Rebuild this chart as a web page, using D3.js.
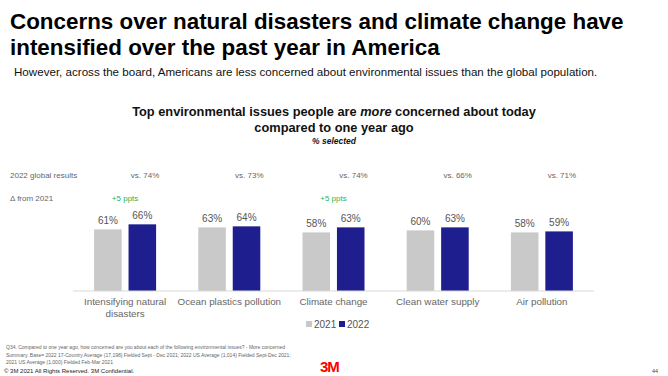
<!DOCTYPE html>
<html>
<head>
<meta charset="utf-8">
<script src="https://cdn.jsdelivr.net/npm/d3@7"></script>
<style>
  body { margin: 0; background: #fff; }
  svg text { font-family: "Liberation Sans", Arial, sans-serif; }
</style>
</head>
<body>
<div id="chart"></div>
<script>
const categories = ["Intensifying natural\ndisasters", "Ocean plastics pollution", "Climate change", "Clean water supply", "Air pollution"];
const years = ["2021", "2022"];
const values2021 = [61, 63, 58, 60, 58];
const values2022 = [66, 64, 63, 63, 59];
const global2022 = [74, 73, 74, 66, 71];
const deltas = ["+5 ppts", "", "+5 ppts", "", ""];
const colors = ["#c9c9c9", "#1e1e8f"];

const rows = categories.map((c, i) => ({
    category: c,
    values: [values2021[i], values2022[i]],
    global: global2022[i],
    delta: deltas[i]
}));

const svg = d3.select("#chart")
    .append("svg")
    .attr("width", 668)
    .attr("height", 376);

svg.append("rect").attr("width", 668).attr("height", 376).attr("fill", "#fff");

// slide heading
svg.append("text")
    .attr("x", 10).attr("y", 29)
    .attr("font-size", 22.4).attr("font-weight", "bold").attr("fill", "#000")
    .text("Concerns over natural disasters and climate change have");
svg.append("text")
    .attr("x", 10).attr("y", 55)
    .attr("font-size", 22.4).attr("font-weight", "bold").attr("fill", "#000")
    .text("intensified over the past year in America");
svg.append("text")
    .attr("x", 14).attr("y", 76)
    .attr("font-size", 11.6)
    .attr("fill", "#111")
    .text("However, across the board, Americans are less concerned about environmental issues than the global population.");

// chart title
const title = svg.append("text")
    .attr("x", 334).attr("y", 116)
    .attr("text-anchor", "middle")
    .attr("font-size", 12.8).attr("font-weight", "bold").attr("fill", "#111");
title.append("tspan").text("Top environmental issues people are ");
title.append("tspan").attr("font-style", "italic").text("more");
title.append("tspan").text(" concerned about today");
svg.append("text")
    .attr("x", 334).attr("y", 132)
    .attr("text-anchor", "middle")
    .attr("font-size", 12.8).attr("font-weight", "bold").attr("fill", "#111")
    .text("compared to one year ago");
svg.append("text")
    .attr("x", 334).attr("y", 144)
    .attr("text-anchor", "middle")
    .attr("font-size", 8.5).attr("font-weight", "bold").attr("font-style", "italic").attr("fill", "#111")
    .text("% selected");

const x = d3.scaleBand()
    .domain(categories)
    .range([73, 594]);

const x1 = d3.scaleBand()
    .domain(years)
    .range([-31, 31])
    .paddingInner(0.2);

const y = d3.scaleLinear()
    .domain([0, 100])
    .range([291, 190]);

// row labels
svg.append("text")
    .attr("x", 10).attr("y", 178)
    .attr("font-size", 8).attr("fill", "#666")
    .text("2022 global results");
svg.append("text")
    .attr("x", 10).attr("y", 201)
    .attr("font-size", 8).attr("fill", "#666")
    .text("\u0394 from 2021");

const group = svg.selectAll(".group")
    .data(rows)
    .enter().append("g")
    .attr("class", "group")
    .attr("transform", d => "translate(" + (x(d.category) + x.bandwidth() / 2) + ",0)");

group.append("text")
    .attr("x", 20).attr("y", 178)
    .attr("text-anchor", "middle")
    .attr("font-size", 8).attr("fill", "#666")
    .text(d => "vs. " + d.global + "%");

group.append("text")
    .attr("x", 0).attr("y", 201)
    .attr("text-anchor", "middle")
    .attr("font-size", 8).attr("fill", "#2fb14a")
    .text(d => d.delta);

group.selectAll(".bar")
    .data(d => d.values.map((v, i) => ({ year: years[i], value: v, i: i })))
    .enter().append("rect")
    .attr("class", "bar")
    .attr("x", d => x1(d.year))
    .attr("y", d => y(d.value))
    .attr("width", x1.bandwidth())
    .attr("height", d => y(0) - y(d.value))
    .attr("fill", d => colors[d.i]);

group.selectAll(".val")
    .data(d => d.values.map((v, i) => ({ year: years[i], value: v })))
    .enter().append("text")
    .attr("class", "val")
    .attr("x", d => x1(d.year) + x1.bandwidth() / 2)
    .attr("y", d => y(d.value) - 5)
    .attr("text-anchor", "middle")
    .attr("font-size", 10).attr("fill", "#555")
    .text(d => d.value + "%");

// baseline
svg.append("line")
    .attr("x1", x.range()[0]).attr("x2", x.range()[1])
    .attr("y1", y(0)).attr("y2", y(0))
    .attr("stroke", "#d9d9d9").attr("stroke-width", 1);

// category labels
const cat = group.append("text")
    .attr("y", 305)
    .attr("text-anchor", "middle")
    .attr("font-size", 9.8).attr("fill", "#666");
cat.selectAll("tspan")
    .data(d => d.category.split("\n"))
    .enter().append("tspan")
    .attr("x", 0)
    .attr("dy", (d, i) => i === 0 ? 0 : 12)
    .text(d => d);

// legend
const legend = svg.append("g").attr("transform", "translate(306,328)");
years.forEach((yr, i) => {
    const g = legend.append("g").attr("transform", "translate(" + (i * 33) + ",0)");
    g.append("rect").attr("x", 0).attr("y", -7).attr("width", 6).attr("height", 6).attr("fill", colors[i]);
    g.append("text").attr("x", 8).attr("y", 0).attr("font-size", 10).attr("fill", "#555").text(yr);
});

// footer
const notes = [
    "Q34. Compared to one year ago, how concerned are you about each of the following environmental issues? - More concerned",
    "Summary. Base= 2022 17-Country Average (17,198) Fielded Sept - Dec 2021; 2022 US Average (1,014) Fielded Sept-Dec 2021;",
    "2021 US Average (1,000) Fielded Feb-Mar 2021"
];
svg.selectAll(".note")
    .data(notes)
    .enter().append("text")
    .attr("class", "note")
    .attr("x", 6)
    .attr("y", (d, i) => 349 + i * 7.5)
    .attr("font-size", 5).attr("fill", "#666")
    .text(d => d);

svg.append("text")
    .attr("x", 4).attr("y", 373)
    .attr("font-size", 6).attr("fill", "#222")
    .text("\u00a9 3M 2021   All Rights Reserved.  3M Confidential.");

svg.append("text")
    .attr("x", 320).attr("y", 372)
    .attr("font-size", 15).attr("font-weight", "bold").attr("fill", "#ff0000")
    .attr("letter-spacing", -1)
    .text("3M");

svg.append("text")
    .attr("x", 658).attr("y", 373)
    .attr("text-anchor", "end")
    .attr("font-size", 5.5).attr("fill", "#444")
    .text("44");
</script>
</body>
</html>
